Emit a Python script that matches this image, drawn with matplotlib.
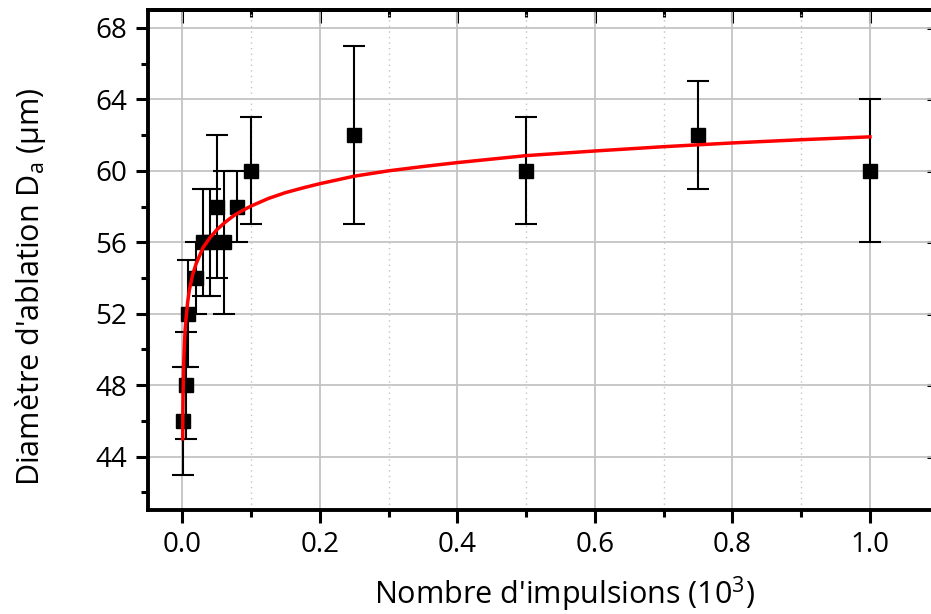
import numpy as np
import matplotlib.pyplot as plt
from matplotlib.ticker import MultipleLocator

plt.rcParams['font.family'] = ['Open Sans', 'DejaVu Sans']
plt.rcParams['mathtext.fontset'] = 'custom'
plt.rcParams['mathtext.rm'] = 'Open Sans'

# measured points (10^3 impulses, diameter in um, error)
x_pts = [0.001, 0.005, 0.008, 0.02, 0.03, 0.04, 0.05, 0.06, 0.08, 0.1, 0.25, 0.5, 0.75, 1.0]
d_pts = [46, 48, 52, 54, 56, 56, 58, 56, 58, 60, 62, 60, 62, 60]
d_err = [3, 3, 3, 2, 3, 3, 4, 4, 2, 3, 5, 3, 3, 4]

# red fitted curve
x_fit = [0.0005, 0.0007, 0.001, 0.0015, 0.002, 0.003, 0.004, 0.005, 0.0075, 0.01, 0.015,
         0.02, 0.03, 0.04, 0.05, 0.0625, 0.075, 0.0875, 0.1, 0.125, 0.15, 0.175, 0.2,
         0.25, 0.3, 0.35, 0.4, 0.5, 0.6, 0.7, 0.8, 0.9, 1.0]
d_fit = [45.0, 46.35, 47.4, 48.5, 49.3, 50.3, 51.1, 51.6, 52.6, 53.3, 54.2,
         54.8, 55.7, 56.25, 56.7, 57.13, 57.5, 57.78, 58.03, 58.45, 58.78, 59.04, 59.28,
         59.7, 60.0, 60.24, 60.46, 60.85, 61.11, 61.35, 61.56, 61.74, 61.9]

fig = plt.figure(figsize=(9.31, 6.14), dpi=100)
ax = fig.add_axes([148/931, 1-510.3/614, 790.7/931, 500.3/614])

ax.errorbar(x_pts, d_pts, yerr=d_err, fmt='s', color='black', ms=10,
            ecolor='black', elinewidth=1.5, capsize=8, capthick=1.5, zorder=3)
ax.plot(x_fit, d_fit, color='red', lw=2.5, zorder=4)

ax.set_xlim(-0.05, 1.1)
ax.set_ylim(41, 69)
ax.xaxis.set_major_locator(MultipleLocator(0.2))
ax.xaxis.set_minor_locator(MultipleLocator(0.1))
ax.yaxis.set_major_locator(MultipleLocator(4))
ax.yaxis.set_minor_locator(MultipleLocator(2))
ax.set_xticks([0, 0.2, 0.4, 0.6, 0.8, 1.0])
ax.set_xticklabels(['0.0', '0.2', '0.4', '0.6', '0.8', '1.0'])

ax.grid(which='major', color='#c4c4c4', lw=1.3)
ax.grid(which='minor', axis='x', color='#c4c4c4', lw=1.0, ls=(0, (1, 3)))
ax.set_axisbelow(True)

for s in ax.spines.values():
    s.set_linewidth(2.8)
ax.tick_params(which='major', direction='out', length=9, width=2.2, labelsize=20, pad=6)
ax.tick_params(which='minor', direction='out', length=5, width=2.2)

top = ax.secondary_xaxis('top')
top.xaxis.set_major_locator(MultipleLocator(0.2))
top.xaxis.set_minor_locator(MultipleLocator(0.1))
top.tick_params(which='major', direction='in', length=9, width=2.2, labeltop=False)
top.tick_params(which='minor', direction='in', length=5, width=2.2)
top.spines['top'].set_linewidth(2.8)

right = ax.secondary_yaxis('right')
right.yaxis.set_major_locator(MultipleLocator(4))
right.yaxis.set_minor_locator(MultipleLocator(2))
right.tick_params(which='major', direction='in', length=9, width=2.2, labelright=False)
right.tick_params(which='minor', direction='in', length=5, width=2.2)
right.spines['right'].set_linewidth(2.8)

ax.set_xlabel(r"Nombre d'impulsions (10$^\mathregular{3}$)", fontsize=22)
ax.set_ylabel(r"Diamètre d'ablation D$_\mathregular{a}$ (µm)", fontsize=22)
ax.xaxis.set_label_coords(564/931, 1-574/614, transform=fig.transFigure)
ax.yaxis.set_label_coords(48/931, 1-287/614, transform=fig.transFigure)

fig.savefig('out.png', dpi=100)
